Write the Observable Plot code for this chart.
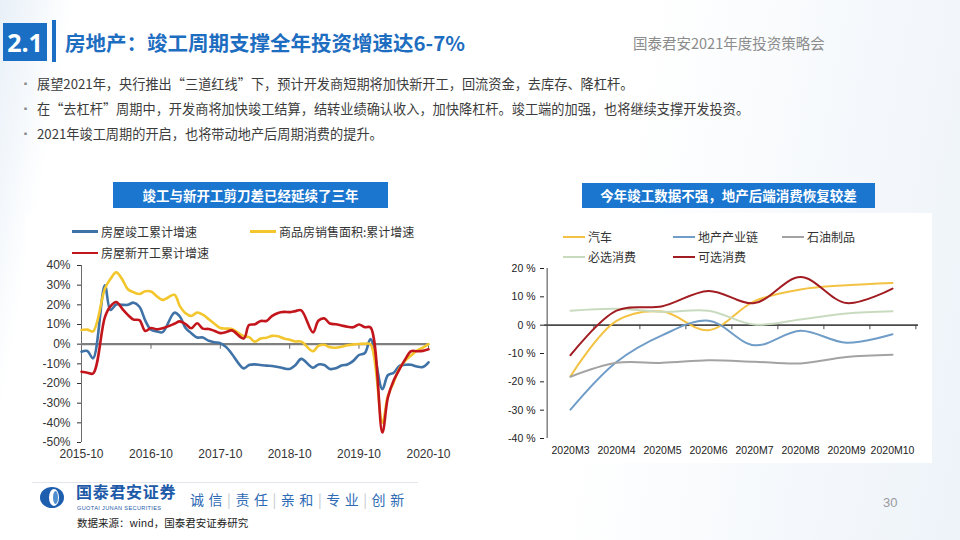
<!DOCTYPE html>
<html><head><meta charset="utf-8">
<script src="https://cdn.jsdelivr.net/npm/d3@7"></script>
<script src="https://cdn.jsdelivr.net/npm/@observablehq/plot@0.6"></script>
<style>
html,body{margin:0;padding:0;background:#fff;}
body{width:960px;height:540px;overflow:hidden;font-family:"Noto Sans CJK SC","Noto Sans",sans-serif;}
#slide{position:relative;width:960px;height:540px;overflow:hidden;
  background:linear-gradient(100deg,#e8f0f8 0%,#ffffff 7%,#ffffff 62%,#edf3f9 100%);}
.abs{position:absolute;white-space:nowrap;}
.panel{position:absolute;background:#fff;}
.ctitle{position:absolute;background:#1a76cf;color:#fff;font-weight:bold;font-size:13.5px;text-align:center;}
.leg{position:absolute;white-space:nowrap;font-size:12px;color:#333;line-height:16px;height:16px;}
.legline{position:absolute;}
</style></head><body>
<div id="slide">
  <div class="abs" style="left:3px;top:23px;width:44px;height:38px;background:#1a6ec4;color:#fff;font-weight:bold;font-size:25px;line-height:38px;text-align:center;font-family:'Open Sans','Noto Sans',sans-serif;">2.1</div>
  <div class="abs" style="left:52px;top:20px;width:4px;height:42px;background:#1a6ec4;"></div>
  <div class="abs" style="left:65px;top:27px;font-size:20.5px;line-height:30px;font-weight:bold;color:#1d6dc0;">房地产：竣工周期支撑全年投资增速达6-7%</div>
  <div class="abs" style="left:633px;top:33px;font-size:14.5px;line-height:20px;color:#8c8c8c;">国泰君安2021年度投资策略会</div>

  <div class="abs" style="left:21px;top:76px;font-size:9px;line-height:16px;color:#8a8a8a;">▪</div>
  <div class="abs" style="left:37px;top:75px;font-size:13.2px;line-height:18px;color:#3c3c3c;">展望2021年，央行推出“三道红线”下，预计开发商短期将加快新开工，回流资金，去库存、降杠杆。</div>
  <div class="abs" style="left:21px;top:101px;font-size:9px;line-height:16px;color:#8a8a8a;">▪</div>
  <div class="abs" style="left:37px;top:100px;font-size:13.2px;line-height:18px;color:#3c3c3c;">在“去杠杆”周期中，开发商将加快竣工结算，结转业绩确认收入，加快降杠杆。竣工端的加强，也将继续支撑开发投资。</div>
  <div class="abs" style="left:21px;top:126px;font-size:9px;line-height:16px;color:#8a8a8a;">▪</div>
  <div class="abs" style="left:37px;top:125px;font-size:13.2px;line-height:18px;color:#3c3c3c;">2021年竣工周期的开启，也将带动地产后周期消费的提升。</div>

  <div class="panel" style="left:25px;top:213px;width:430px;height:257px;"></div>
  <div class="panel" style="left:508px;top:213px;width:424px;height:250px;"></div>

  <div class="ctitle" style="left:113px;top:182px;width:275px;height:26px;line-height:26px;">竣工与新开工剪刀差已经延续了三年</div>
  <div class="ctitle" style="left:582px;top:183px;width:293px;height:25px;line-height:25px;">今年竣工数据不强，地产后端消费恢复较差</div>

  <div id="leftChart" class="abs" style="left:25px;top:255px;"></div>
  <div id="rightChart" class="abs" style="left:505px;top:262px;"></div>

  <div class="abs" style="left:32px;top:482px;width:386px;height:1px;background:#e2e6ea;"></div>
  <div class="abs" style="left:40px;top:487px;width:24px;height:21px;border-radius:50%;background:#1d5fae;overflow:hidden;">
    <div style="position:absolute;left:9px;top:2px;width:10px;height:17px;border-radius:50%;background:#fff;"></div>
    <div style="position:absolute;left:13px;top:4px;width:5px;height:13px;border-radius:50%;background:#4f8fd0;"></div>
  </div>
  <div class="abs" style="left:76px;top:483px;font-size:16px;line-height:17px;font-weight:bold;color:#1d5aa8;letter-spacing:0.7px;">国泰君安证券</div>
  <div class="abs" style="left:77px;top:505px;font-size:5.6px;line-height:6px;color:#1d5aa8;font-family:'Liberation Sans',Arial,sans-serif;letter-spacing:0.35px;">GUOTAI JUNAN SECURITIES</div>
  <div class="abs" style="left:190px;top:489px;font-size:14px;line-height:20px;color:#2f6bb5;letter-spacing:0.7px;">诚 信 <span style="color:#c4c8cc">|</span> 责 任 <span style="color:#c4c8cc">|</span> 亲 和 <span style="color:#c4c8cc">|</span> 专 业 <span style="color:#c4c8cc">|</span> 创 新</div>
  <div class="abs" style="left:77px;top:516px;font-size:10.5px;line-height:14px;color:#222;">数据来源：wind，国泰君安证券研究</div>
  <div class="abs" style="left:883px;top:495px;font-size:13px;line-height:16px;color:#9a9a9a;font-family:'Liberation Sans',Arial,sans-serif;">30</div>
</div>
<script>
// ---------- Left chart data (累计同比, %) ----------
const leftMonths = [
  "2015-10","2015-11","2015-12",
  "2016-02","2016-03","2016-04","2016-05","2016-06","2016-07","2016-08","2016-09","2016-10","2016-11","2016-12",
  "2017-02","2017-03","2017-04","2017-05","2017-06","2017-07","2017-08","2017-09","2017-10","2017-11","2017-12",
  "2018-02","2018-03","2018-04","2018-05","2018-06","2018-07","2018-08","2018-09","2018-10","2018-11","2018-12",
  "2019-02","2019-03","2019-04","2019-05","2019-06","2019-07","2019-08","2019-09","2019-10","2019-11","2019-12",
  "2020-02","2020-03","2020-04","2020-05","2020-06","2020-07","2020-08","2020-09","2020-10"
];
const completed = [
  -3.8,-3.5,-7.2,
  29.9,17.4,20.2,20.0,20.0,21.1,19.0,12.0,7.3,6.5,6.1,
  16.0,14.2,8.2,5.6,3.4,3.4,1.7,1.0,0.5,-1.5,-5.0,
  -12.3,-10.6,-10.3,-10.6,-10.9,-11.1,-11.6,-12.3,-12.6,-10.6,-7.5,
  -12.0,-10.3,-10.6,-12.6,-12.3,-10.9,-10.3,-8.5,-5.5,-4.5,2.6,
  -22.9,-15.8,-14.5,-11.0,-10.5,-10.5,-11.4,-11.6,-9.2
];
const salesArea = [
  7.2,7.4,6.5,
  28.2,33.1,36.5,33.2,27.9,26.4,25.5,26.9,26.8,24.3,22.5,
  25.1,19.5,15.7,14.3,16.1,15.0,12.7,10.3,8.2,7.9,7.7,
  4.1,3.6,1.3,2.9,3.3,4.2,4.0,2.9,2.2,1.4,1.3,
  -3.6,-0.9,-0.3,-1.6,-1.8,-1.3,-0.6,-0.1,0.1,0.2,-0.1,
  -39.9,-26.3,-19.3,-12.3,-8.4,-5.8,-3.3,-1.8,0.0
];
const newStarts = [
  -14.0,-14.5,-14.9,
  13.7,19.2,21.4,18.2,14.9,12.5,12.2,6.7,8.2,7.6,8.1,
  10.4,11.6,10.2,8.1,10.6,7.9,7.7,6.7,5.6,6.2,7.0,
  2.9,9.7,10.1,11.8,11.8,14.4,15.9,16.4,16.3,16.8,17.2,
  6.0,11.9,13.1,10.5,10.1,9.5,8.9,8.6,10.0,8.6,8.5,
  -44.9,-27.2,-18.4,-12.8,-7.6,-3.6,-3.6,-3.4,-2.6
];
const leftNames = ["房屋竣工累计增速","商品房销售面积:累计增速","房屋新开工累计增速"];
const leftColors = ["#3f72a6","#f2c62c","#c3161c"];
const leftXTicks = ["2015-10","2016-10","2017-10","2018-10","2019-10","2020-10"];
const leftYTicks = [40,30,20,10,0,-10,-20,-30,-40,-50];

// ---------- Right chart data (%) ----------
const rightMonths = ["2020M3","2020M4","2020M5","2020M6","2020M7","2020M8","2020M9","2020M10"];
const autos       = [-18.0, 1.5, 4.8, -1.8, 8.5, 12.6, 14.1, 14.9];
const propChain   = [-29.8,-13.0,-3.5, 1.6, -7.1, -2.0, -6.2, -3.2];
const petroleum   = [-18.2,-13.3,-13.3,-12.4,-12.9,-13.5,-11.2,-10.4];
const necessities = [ 5.1, 5.8, 4.7, 5.1, 0.2, 2.0, 4.1, 4.9];
const discretion  = [-10.6, 5.1, 6.7, 12.1, 7.8, 17.0, 7.8, 12.9];
const rightNames = ["汽车","地产产业链","石油制品","必选消费","可选消费"];
const rightColors = ["#f4c242","#6f9dc8","#a3a3a3","#c9dbbf","#a21d22"];
const rightYTicks = [20,10,0,-10,-20,-30,-40];

// ---------- Legends ----------
function legendItem(parent, x, y, len, thick, color, text) {
  const l = document.createElement("div");
  l.className = "legline";
  l.style.cssText = `left:${x}px;top:${y - thick/2}px;width:${len}px;height:${thick}px;background:${color};`;
  parent.appendChild(l);
  const t = document.createElement("div");
  t.className = "leg";
  t.style.left = (x + len + 3) + "px";
  t.style.top = (y - 8) + "px";
  t.textContent = text;
  parent.appendChild(t);
}
const slide = document.getElementById("slide");
legendItem(slide, 72, 231.5, 26, 2.5, leftColors[0], leftNames[0]);
legendItem(slide, 250, 231.5, 26, 2.5, leftColors[1], leftNames[1]);
legendItem(slide, 72, 253, 26, 2.5, leftColors[2], leftNames[2]);

legendItem(slide, 563, 237, 22, 2, rightColors[0], rightNames[0]);
legendItem(slide, 673, 237, 22, 2, rightColors[1], rightNames[1]);
legendItem(slide, 782, 237, 22, 2, rightColors[2], rightNames[2]);
legendItem(slide, 563, 257, 22, 2, rightColors[3], rightNames[3]);
legendItem(slide, 673, 257, 22, 2, rightColors[4], rightNames[4]);

// ---------- Left chart ----------
const parse = d3.utcParse("%Y-%m");
const leftSeries = [completed, salesArea, newStarts];
const leftData = leftSeries.map((arr, s) => leftMonths.map((m, i) => ({date: parse(m), v: arr[i], s})));
const x0 = parse(leftMonths[0]);
const leftPlot = Plot.plot({
  width: 430, height: 215,
  marginLeft: 56, marginRight: 27, marginTop: 10, marginBottom: 28,
  style: {background: "transparent", fontFamily: '"Liberation Sans", Arial, sans-serif', fontSize: "12px", color: "#333", overflow: "visible"},
  x: {type: "utc", domain: [x0, parse(leftMonths[leftMonths.length - 1])], ticks: leftXTicks.map(parse),
      tickFormat: d3.utcFormat("%Y-%m"), tickSize: 0, tickPadding: 7, label: null},
  y: {domain: [-50, 40], ticks: leftYTicks, tickFormat: d => d + "%", tickSize: 4, tickPadding: 7, label: null},
  marks: [
    Plot.ruleX([x0], {y1: -50, y2: 40, stroke: "#6b6b6b", strokeWidth: 1}),
    Plot.ruleY([0], {stroke: "#7f7f7f", strokeWidth: 2.2}),
    Plot.ruleX(leftXTicks.slice(1).map(parse), {y1: 0, y2: -2.6, stroke: "#6b6b6b", strokeWidth: 1}),
    ...leftData.map((d, s) => Plot.line(d, {x: "date", y: "v", stroke: leftColors[s], strokeWidth: 2.6, curve: "catmull-rom"}))
  ]
});
document.getElementById("leftChart").appendChild(leftPlot);

// ---------- Right chart ----------
const rightSeries = [autos, propChain, petroleum, necessities, discretion];
const rightData = rightSeries.map((arr, s) => rightMonths.map((m, i) => ({m, v: arr[i], s})));
const rW = 425, rML = 39, rMR = 12;
const halfStep = (rW - rML - rMR) / rightMonths.length / 2;
const rightPlot = Plot.plot({
  width: rW, height: 200,
  marginLeft: rML, marginRight: rMR, marginTop: 6, marginBottom: 24,
  style: {background: "transparent", fontFamily: '"Liberation Sans", Arial, sans-serif', fontSize: "10.5px", color: "#222", overflow: "visible"},
  x: {type: "point", domain: rightMonths, padding: 0.5, tickSize: 0, tickPadding: 8, label: null},
  y: {domain: [-40, 20], ticks: rightYTicks, tickFormat: d => d + " %", tickSize: 4, tickPadding: 5, label: null},
  marks: [
    Plot.ruleX([rightMonths[0]], {dx: -halfStep, y1: -40, y2: 20, stroke: "#444", strokeWidth: 1}),
    Plot.ruleY([0], {stroke: "#4a4a4a", strokeWidth: 1.6}),
    Plot.ruleX(rightMonths, {dx: halfStep, y1: 0, y2: -1.6, stroke: "#4a4a4a", strokeWidth: 1}),
    ...rightData.map((d, s) => Plot.line(d, {x: "m", y: "v", stroke: rightColors[s], strokeWidth: 2, curve: "catmull-rom"}))
  ]
});
document.getElementById("rightChart").appendChild(rightPlot);
</script>
</body></html>
